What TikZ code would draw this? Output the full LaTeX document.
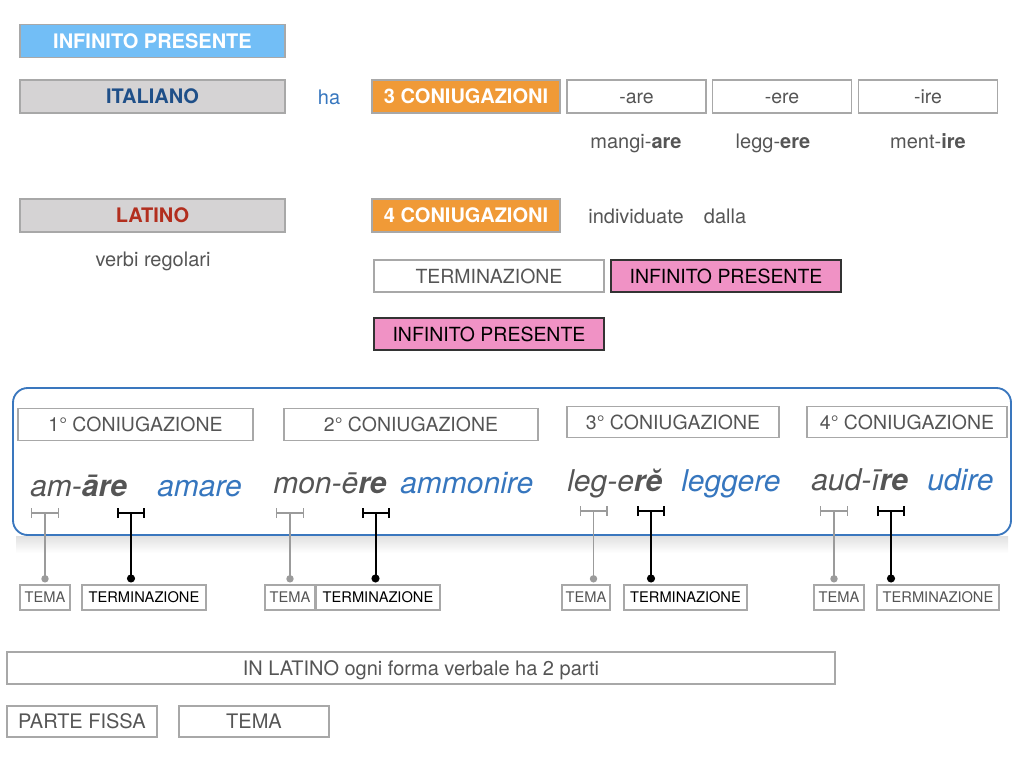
\documentclass[tikz,border=0pt]{standalone}
\usepackage{fontspec}
\setmainfont{TeX Gyre Heros}
\usetikzlibrary{arrows.meta}

\definecolor{skyblue}{HTML}{72BEF6}
\definecolor{panelgray}{HTML}{D5D3D4}
\definecolor{conjorange}{HTML}{F09A37}
\definecolor{pinkfill}{HTML}{F092C5}
\definecolor{itablue}{HTML}{1F4F88}
\definecolor{latred}{HTML}{B22E1E}
\definecolor{wordblue}{HTML}{3676BE}
\definecolor{textgray}{HTML}{555555}
\definecolor{linegray}{HTML}{A8A8A8}
\definecolor{framebl}{HTML}{3A77BE}
\definecolor{tickgray}{HTML}{9B9B9B}

\tikzstyle{plainbox} = [draw=linegray, line width=0.8pt, rectangle, inner sep=0pt,
  minimum height=24.75pt, text height=10.5pt, text depth=0pt, text=textgray,
  font=\fontsize{14.6}{17}\selectfont]
\tikzstyle{boldbox} = [plainbox, text height=10.8pt, font=\fontsize{15}{18}\selectfont\bfseries]
\tikzstyle{langbox} = [boldbox, fill=panelgray, minimum width=198.75pt]
\tikzstyle{conjbox} = [boldbox, fill=conjorange, text=white, minimum width=141pt]
\tikzstyle{endbox} = [plainbox, minimum width=104.25pt]
\tikzstyle{pinkbox} = [plainbox, draw=black!80, fill=pinkfill, text=black,
  minimum width=172.5pt, minimum height=24pt]
\tikzstyle{headbox} = [plainbox, minimum height=23.5pt]
\tikzstyle{tagbox} = [plainbox, minimum height=18.75pt, text height=7.9pt,
  font=\fontsize{11}{13}\selectfont]
\tikzstyle{widebox} = [plainbox, text height=10.8pt, font=\fontsize{15}{18}\selectfont]
\tikzstyle{note} = [inner sep=0pt, anchor=base, text=textgray, font=\fontsize{15}{18}\selectfont]
\tikzstyle{word} = [inner sep=0pt, anchor=base west, text=textgray,
  font=\fontsize{22.5}{26}\selectfont\itshape]
\tikzstyle{gloss} = [word, text=wordblue]
\tikzstyle{temabar} = [draw=tickgray, line width=1.1pt, {Bar[width=7.5pt]}-{Bar[width=7.5pt]}]
\tikzstyle{termbar} = [draw=black, line width=1.5pt, {Bar[width=7.5pt]}-{Bar[width=7.5pt]}]
\tikzstyle{temaline} = [draw=tickgray, line width=1.1pt, -{Circle[length=5.5pt]}, shorten >=1.5pt]
\tikzstyle{termline} = [draw=black, line width=1.5pt, -{Circle[length=6pt]}, shorten >=1.5pt]

\begin{document}
\begin{tikzpicture}[x=0.75pt, y=-0.75pt]
        \useasboundingbox (0,0) rectangle (1024,768);

        % top part
        \node [langbox, fill=skyblue, text=white] (infpres) at (152.5, 41)   {INFINITO PRESENTE};
        \node [langbox, text=itablue]  (italiano) at (152.5, 96.5) {ITALIANO};
        \node [note, text=wordblue]    (ha)       at (329, 104)    {ha};
        \node [conjbox] (tre)     at (466, 96.5)   {3 CONIUGAZIONI};
        \node [endbox]  (are)     at (636.5, 96.5) {-are};
        \node [endbox]  (ere)     at (782, 96.5)   {-ere};
        \node [endbox]  (ire)     at (928, 96.5)   {-ire};
        \node [note]    (mangi)   at (636, 148)    {mangi-\textbf{are}};
        \node [note]    (legg)    at (773, 148)    {legg-\textbf{ere}};
        \node [note]    (ment)    at (928, 148)    {ment-\textbf{ire}};

        \node [langbox, text=latred]   (latino)   at (152.5, 215.5) {LATINO};
        \node [note]    (verbi)   at (153, 266)    {verbi regolari};
        \node [conjbox] (quattro) at (466, 215.5)  {4 CONIUGAZIONI};
        \node [note]    (indiv)   at (636, 223)    {individuate};
        \node [note]    (dalla)   at (725, 223)    {dalla};
        \node [plainbox, minimum width=172.5pt, minimum height=24pt] (termin) at (489, 276) {TERMINAZIONE};
        \node [pinkbox] (pinka)   at (726, 276)    {INFINITO PRESENTE};
        \node [pinkbox] (pinkb)   at (489, 334)    {INFINITO PRESENTE};

        % the four conjugations
        \shade [top color=black!12, bottom color=white] (16,536) rectangle (1008,553);
        \draw [draw=framebl, line width=1.4pt, rounded corners=11pt] (13,388) rectangle (1011,535);

        \node [headbox, minimum width=176.25pt] (con1) at (135.5, 424.5) {1° CONIUGAZIONE};
        \node [headbox, minimum width=190.5pt]  (con2) at (411, 424.5)   {2° CONIUGAZIONE};
        \node [headbox, minimum width=159pt]    (con3) at (673, 422)     {3° CONIUGAZIONE};
        \node [headbox, minimum width=150pt]    (con4) at (907, 422)     {4° CONIUGAZIONE};

        \node [word]  (amare)    at (30, 496)  {am-{\bfseries āre}};
        \node [gloss] (itamare)  at (157, 496) {amare};
        \node [word]  (monere)   at (273, 493) {mon-ē{\bfseries re}};
        \node [gloss] (itammon)  at (400, 493) {ammonire};
        \node [word]  (legere)   at (567, 491) {leg-e{\bfseries rĕ}};
        \node [gloss] (itlegg)   at (681, 491) {leggere};
        \node [word]  (audire)   at (811, 490) {aud-ī{\bfseries re}};
        \node [gloss] (itudire)  at (927, 490) {udire};

        \coordinate (tm1) at (45, 513);    \coordinate (te1) at (131, 513);
        \coordinate (tm2) at (290, 513);   \coordinate (te2) at (375.5, 513);
        \coordinate (tm3) at (593.5, 511); \coordinate (te3) at (651, 511);
        \coordinate (tm4) at (834, 511);   \coordinate (te4) at (891, 511);

        \node [tagbox, minimum width=37.5pt] (tema1) at (45, 597.5)    {TEMA};
        \node [tagbox, minimum width=93pt, text=black] (term1) at (144, 597.5) {TERMINAZIONE};
        \node [tagbox, minimum width=37.5pt] (tema2) at (290, 597.5)   {TEMA};
        \node [tagbox, minimum width=93pt, text=black] (term2) at (378, 597.5) {TERMINAZIONE};
        \node [tagbox, minimum width=36pt]   (tema3) at (586, 597.5)   {TEMA};
        \node [tagbox, minimum width=92.25pt, text=black] (term3) at (685.5, 597.5) {TERMINAZIONE};
        \node [tagbox, minimum width=37.5pt] (tema4) at (839, 597.5)   {TEMA};
        \node [tagbox, minimum width=91.5pt] (term4) at (938, 597.5)   {TERMINAZIONE};

        \foreach \i in {1,...,4} {
          \draw [temabar] (tm\i) ++(-14,0) -- ++(28,0);
          \draw [termbar] (te\i) ++(-14,0) -- ++(28,0);
          \draw [temaline] (tm\i) -- (tm\i |- tema\i.north);
          \draw [termline] (te\i) -- (te\i |- term\i.north);
        }

        % bottom part
        \node [widebox, minimum width=621pt, minimum height=24pt] (parti) at (421, 668)
          {IN LATINO ogni forma verbale ha 2 parti};
        \node [widebox, minimum width=112.5pt, minimum height=23.25pt] (fissa) at (82, 721.5) {PARTE FISSA};
        \node [widebox, minimum width=112.5pt, minimum height=23.25pt] (tema)  at (254, 721.5) {TEMA};
      \end{tikzpicture}
\end{document}
